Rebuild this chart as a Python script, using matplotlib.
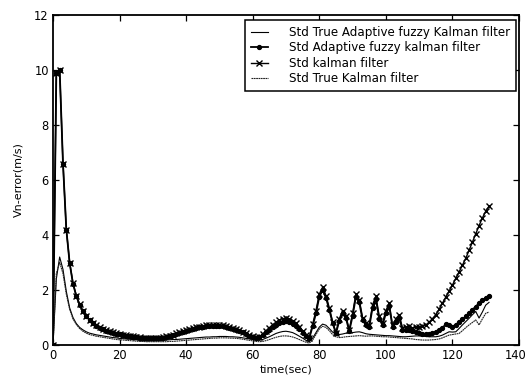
import numpy as np
import matplotlib
matplotlib.use("Agg")
import matplotlib.pyplot as plt
from matplotlib.transforms import ScaledTranslation

plt.rcParams['font.family'] = ['DejaVu Sans']

# time grid (1 s sampling)
time_s = np.arange(0, 132)

std_kalman = [
    0.0, 9.9, 10.0, 6.6, 4.2, 3.0, 2.25, 1.8, 1.48, 1.24,
    1.06, 0.92, 0.81, 0.72, 0.65, 0.59, 0.54, 0.5, 0.46, 0.43,
    0.41, 0.38, 0.36, 0.34, 0.32, 0.3, 0.28, 0.27, 0.26, 0.25,
    0.25, 0.25, 0.26, 0.28, 0.31, 0.34, 0.38, 0.42, 0.46, 0.5,
    0.54, 0.58, 0.61, 0.64, 0.67, 0.69, 0.71, 0.72, 0.73, 0.73,
    0.72, 0.71, 0.69, 0.66, 0.63, 0.59, 0.54, 0.48, 0.42, 0.36,
    0.31, 0.28, 0.3, 0.4, 0.52, 0.63, 0.74, 0.83, 0.91, 0.96,
    0.97, 0.94, 0.88, 0.79, 0.66, 0.5, 0.35, 0.27, 0.75, 1.25,
    1.85, 2.1, 1.8, 1.35, 0.85, 0.45, 0.95, 1.25, 1.05, 0.55,
    1.15, 1.85, 1.65, 1.0, 0.8, 0.72, 1.45, 1.78, 1.05, 0.8,
    1.25, 1.52, 0.72, 0.95, 1.1, 0.62, 0.66, 0.7, 0.62, 0.64,
    0.65, 0.68, 0.73, 0.83, 0.96, 1.1, 1.3, 1.52, 1.74, 1.96,
    2.18, 2.42, 2.66, 2.9, 3.15, 3.44, 3.74, 4.04, 4.34, 4.62,
    4.86, 5.05,
]

std_adaptive_fuzzy = [
    0.0, 9.9, 10.0, 6.6, 4.2, 2.98, 2.23, 1.78, 1.46, 1.22,
    1.04, 0.9, 0.79, 0.7, 0.63, 0.57, 0.52, 0.48, 0.44, 0.41,
    0.39, 0.36, 0.34, 0.32, 0.3, 0.28, 0.27, 0.26, 0.25, 0.24,
    0.24, 0.24, 0.25, 0.27, 0.29, 0.32, 0.36, 0.4, 0.44, 0.48,
    0.51, 0.55, 0.58, 0.61, 0.64, 0.66, 0.68, 0.69, 0.7, 0.7,
    0.69, 0.68, 0.66, 0.63, 0.6, 0.56, 0.51, 0.46, 0.4, 0.34,
    0.3, 0.27, 0.28, 0.36, 0.46, 0.56, 0.65, 0.73, 0.8, 0.85,
    0.86, 0.83, 0.78, 0.7, 0.58, 0.45, 0.32, 0.25, 0.68, 1.15,
    1.75, 2.0, 1.72, 1.28, 0.8, 0.42, 0.88, 1.15, 0.98, 0.5,
    1.05, 1.75, 1.55, 0.92, 0.72, 0.65, 1.35, 1.68, 0.95, 0.72,
    1.15, 1.42, 0.65, 0.85, 1.0, 0.55, 0.55, 0.56, 0.5, 0.46,
    0.43, 0.41, 0.4, 0.41, 0.44, 0.48, 0.54, 0.62, 0.76, 0.72,
    0.67, 0.74, 0.83, 0.93, 1.04, 1.15, 1.28, 1.4, 1.52, 1.62,
    1.72, 1.8,
]

std_true_adaptive_fuzzy = [
    0.0, 2.4, 3.2, 2.75, 1.95, 1.35, 1.0, 0.78, 0.64, 0.55,
    0.48, 0.43, 0.4, 0.37, 0.35, 0.33, 0.31, 0.29, 0.27, 0.26,
    0.24, 0.23, 0.22, 0.21, 0.2, 0.19, 0.18, 0.18, 0.17, 0.17,
    0.17, 0.17, 0.17, 0.18, 0.18, 0.19, 0.2, 0.2, 0.21, 0.22,
    0.23, 0.24, 0.25, 0.26, 0.27, 0.28, 0.29, 0.29, 0.3, 0.3,
    0.31, 0.31, 0.31, 0.3, 0.3, 0.29, 0.28, 0.26, 0.24, 0.22,
    0.2, 0.18, 0.17, 0.2, 0.25, 0.3, 0.36, 0.42, 0.46, 0.49,
    0.5, 0.48, 0.45, 0.39, 0.32, 0.25, 0.17, 0.12, 0.25, 0.45,
    0.65, 0.76, 0.72, 0.6, 0.47, 0.4, 0.38, 0.4, 0.43, 0.44,
    0.45, 0.47, 0.48, 0.45, 0.41, 0.39, 0.38, 0.37, 0.36, 0.35,
    0.34, 0.34, 0.33, 0.32, 0.31, 0.3, 0.3, 0.31, 0.32, 0.33,
    0.33, 0.32, 0.31, 0.3, 0.3, 0.3, 0.32, 0.36, 0.42, 0.48,
    0.47, 0.48, 0.6, 0.73, 0.85, 0.97, 1.1, 1.22, 0.98, 1.2,
    1.45, 1.55,
]

std_true_kalman = [
    0.0, 2.6, 3.0, 2.6, 1.85, 1.3, 0.95, 0.75, 0.6, 0.5,
    0.43, 0.38, 0.35, 0.32, 0.3, 0.28, 0.26, 0.24, 0.22, 0.2,
    0.19, 0.18, 0.17, 0.16, 0.15, 0.14, 0.13, 0.13, 0.12, 0.12,
    0.12, 0.12, 0.12, 0.12, 0.12, 0.13, 0.13, 0.14, 0.15, 0.16,
    0.17, 0.18, 0.19, 0.2, 0.21, 0.22, 0.23, 0.24, 0.25, 0.25,
    0.26, 0.26, 0.26, 0.25, 0.25, 0.24, 0.23, 0.21, 0.19, 0.17,
    0.15, 0.13, 0.12, 0.13, 0.16, 0.2, 0.24, 0.28, 0.31, 0.33,
    0.33, 0.32, 0.29, 0.25, 0.2, 0.15, 0.1, 0.07, 0.18, 0.38,
    0.58, 0.68, 0.64, 0.52, 0.38, 0.3, 0.27, 0.28, 0.3, 0.31,
    0.32, 0.33, 0.34, 0.33, 0.32, 0.33, 0.33, 0.32, 0.31, 0.3,
    0.3, 0.29, 0.28, 0.27, 0.26, 0.25, 0.24, 0.23, 0.22, 0.2,
    0.19, 0.18, 0.18, 0.18, 0.19, 0.2, 0.22, 0.26, 0.31, 0.36,
    0.38, 0.4, 0.42, 0.52, 0.63, 0.73, 0.82, 0.91, 0.73, 0.95,
    1.15, 1.2,
]

labels = [
    "Std True Adaptive fuzzy Kalman filter",
    "Std Adaptive fuzzy kalman filter",
    "Std kalman filter",
    "Std True Kalman filter",
]
x_ticks = [0, 20, 40, 60, 80, 100, 120, 140]
y_ticks = [0, 2, 4, 6, 8, 10, 12]

fig = plt.figure(figsize=(5.28, 3.83), dpi=100)
ax = fig.add_axes([53 / 528, 38 / 383, 466 / 528, 330 / 383])

ax.plot(time_s, std_true_adaptive_fuzzy, color='black', lw=0.8,
        label=labels[0])
ax.plot(time_s, std_adaptive_fuzzy, color='black', lw=1.3, marker='o',
        ms=2.8, label=labels[1])
ax.plot(time_s, std_kalman, color='black', lw=1.0, marker='x',
        ms=3.8, mew=1.0, label=labels[2])
ax.plot(time_s, std_true_kalman, color='#222222', lw=0.8,
        linestyle=(0, (1.6, 0.5)), label=labels[3])

ax.set_xlim(0, 140)
ax.set_ylim(0, 12)
ax.set_xticks(x_ticks)
ax.set_yticks(y_ticks)
ax.tick_params(direction='in', top=True, right=True, length=4, width=0.9,
               labelsize=8.3, pad=3)
for s in ax.spines.values():
    s.set_linewidth(1.3)

# keep the last x tick label inside the figure edge
last = ax.get_xticklabels()[-1]
last.set_transform(last.get_transform()
                   + ScaledTranslation(-3 / 100, 0, fig.dpi_scale_trans))

ax.set_xlabel("time(sec)", fontsize=8, labelpad=2)
ax.set_ylabel("Vn-error(m/s)", fontsize=8, labelpad=8)

leg = ax.legend(loc='upper right', bbox_to_anchor=(1 - 3 / 466, 1 - 5 / 330),
                borderaxespad=0, fontsize=8.6, handlelength=1.45,
                handletextpad=1.75, labelspacing=0.2, borderpad=0.5,
                fancybox=False, framealpha=1)
leg.get_frame().set_edgecolor('black')
leg.get_frame().set_linewidth(1.1)

fig.savefig("out.png", dpi=100)
